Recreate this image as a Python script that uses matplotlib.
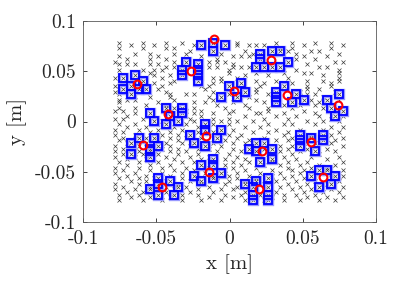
import matplotlib
matplotlib.use('Agg')
import matplotlib.pyplot as plt
import numpy as np

plt.rcParams['font.family'] = ['cmr10', 'DejaVu Sans']
plt.rcParams['axes.unicode_minus'] = False
plt.rcParams['mathtext.fontset'] = 'cm'

# ---- sampling lattice ----
GRID_X0 = -0.0781
GRID_DX = 0.00268
GRID_Y0 = 0.0784
GRID_DY = 0.0027

# background candidate points: for each lattice row (top to bottom) the occupied columns
bg_rows = [
    [1, 7, 13, 17, 31, 41, 45, 51, 55],
    [4, 10, 20, 31, 34, 36, 38, 48, 58],
    [1, 7, 13, 15, 42, 45, 55],
    [19, 33, 44, 50, 52],
    [5, 9, 15, 18, 27, 35, 46, 57],
    [1, 11, 22, 30, 32, 34, 48, 54],
    [3, 9, 13, 26, 46, 51],
    [0, 15, 24, 26, 28, 56, 58],
    [1, 3, 5, 9, 11, 30, 35, 49],
    [13, 15, 24, 26, 30, 32, 34, 52, 54],
    [1, 7, 10, 12, 29, 46, 57],
    [9, 29, 36, 43, 48, 50, 57],
    [10, 14, 33, 39, 53],
    [0, 12, 25, 27, 31, 44, 57],
    [15, 27, 36, 41, 49, 53, 57],
    [10, 14, 25, 38, 45, 55],
    [0, 12, 22, 24, 37, 49, 55],
    [1, 11, 23, 36, 49, 52],
    [0, 13, 25, 36, 47, 56],
    [1, 14, 18, 20, 29, 39, 49, 51],
    [9, 14, 24, 34, 53],
    [1, 3, 5, 15, 25, 36, 50, 57],
    [1, 11, 20, 23, 30, 38, 52],
    [8, 13, 26, 33, 43, 47, 51],
    [1, 5, 15, 20, 28, 34, 39, 45, 53],
    [0, 2, 18, 22, 30, 39, 48],
    [5, 20, 25, 29, 36, 37, 43, 51],
    [3, 22, 33, 41, 46, 52, 58],
    [0, 2, 7, 19, 25, 29, 38, 44, 55],
    [12, 20, 27, 31, 35, 49, 53, 57],
    [1, 5, 18, 25, 29, 39, 43, 45, 51],
    [3, 8, 15, 21, 33, 37, 55, 58],
    [0, 6, 11, 17, 30, 41, 47, 53],
    [2, 9, 14, 21, 25, 35, 39, 44, 57],
    [0, 5, 12, 16, 29, 32, 43, 50, 55],
    [2, 8, 14, 18, 22, 31, 38, 45, 58],
    [1, 11, 16, 28, 34, 41, 44, 56],
    [3, 8, 13, 17, 25, 30, 33, 48, 51, 55],
    [0, 6, 14, 19, 27, 35, 42, 45, 58],
    [2, 12, 16, 21, 24, 30, 38, 44, 49, 54],
    [0, 6, 14, 18, 26, 32, 42, 47, 56],
    [2, 7, 11, 16, 21, 29, 35, 39, 45, 52],
    [0, 5, 13, 19, 24, 31, 37, 43, 50, 57],
    [3, 8, 15, 22, 28, 33, 46, 54],
    [1, 6, 11, 17, 20, 30, 34, 40, 44, 49, 58],
    [3, 9, 14, 28, 32, 38, 42, 47, 52, 56],
    [0, 6, 12, 18, 23, 30, 36, 44, 50, 54],
    [2, 9, 15, 20, 28, 33, 40, 45, 48, 58],
    [0, 5, 12, 17, 23, 31, 37, 42, 47, 53],
    [3, 8, 14, 25, 29, 34, 40, 45, 58],
    [1, 6, 10, 17, 21, 31, 36, 43, 48, 55],
    [4, 8, 13, 19, 26, 29, 33, 41, 46, 51, 57],
    [0, 6, 16, 22, 28, 37, 44, 49, 53],
    [2, 9, 13, 18, 24, 31, 34, 42, 47, 58],
    [0, 5, 11, 15, 21, 27, 30, 38, 45, 50, 55],
    [3, 7, 13, 19, 25, 33, 41, 48, 53, 57],
    [1, 6, 17, 21, 28, 32, 37, 43, 46, 51],
    [4, 9, 14, 24, 30, 35, 40, 49, 54, 58],
    [1, 7, 12, 17, 22, 27, 33, 38, 43, 47, 52, 56],
]

# selected sensors (blue squares): lattice column / row per point
sel_col = [22, 25, 25, 28,
           18, 17, 17, 21, 21, 21, 21,
           2, 5, 7, 2, 4, 4, 6, 8,
           37, 37, 40, 42, 36, 38, 40, 42, 44,
           29, 32, 33, 27, 31,
           43, 41, 41, 41, 46, 45, 48,
           54, 57, 55, 58, 56,
           9, 13, 17, 17, 14, 10, 13, 16,
           19, 20, 23, 23, 23, 26, 27,
           4, 6, 10, 11, 9, 9, 9, 4,
           34, 36, 38, 36, 40, 40, 37,
           47, 47, 47, 50, 53, 53, 51,
           20, 22, 22, 25, 25, 25, 27,
           9, 11, 11, 14, 16, 15, 11,
           33, 36, 39, 39, 35, 35, 35, 39, 39,
           50, 52, 54, 56, 52, 55]
sel_row = [1, 0, 3, 1,
           7, 10, 12, 8, 10, 12, 14,
           13, 12, 14, 17, 16, 19, 17, 17,
           4, 6, 3, 3, 9, 9, 9, 9, 7,
           16, 15, 18, 20, 20,
           16, 18, 20, 22, 19, 22, 21,
           21, 19, 24, 25, 27,
           26, 24, 24, 26, 27, 29, 30, 29,
           34, 37, 30, 32, 38, 35, 32,
           37, 35, 35, 38, 39, 40, 42, 41,
           39, 37, 37, 40, 39, 43, 44,
           34, 36, 38, 35, 34, 36, 40,
           49, 45, 51, 43, 45, 50, 48,
           54, 50, 56, 51, 53, 56, 52,
           52, 51, 50, 53, 53, 56, 58, 56, 58,
           49, 47, 47, 49, 53, 52]

# source positions (red circles) [m]
src_x = [-0.0106, -0.0262, -0.0633, 0.0282, 0.0032, 0.0395, 0.0740, -0.0417,
         -0.0160, -0.0588, 0.0220, 0.0557, -0.0139, -0.0460, 0.0204, 0.0641]
src_y = [0.0818, 0.0500, 0.0376, 0.0609, 0.0304, 0.0261, 0.0161, 0.0075,
         -0.0141, -0.0237, -0.0290, -0.0207, -0.0500, -0.0649, -0.0672, -0.0549]

ticks = [-0.1, -0.05, 0, 0.05, 0.1]
tick_labels = ['-0.1', '-0.05', '0', '0.05', '0.1']

# ---- build coordinates ----
bg_x, bg_y = [], []
for r, cols in enumerate(bg_rows):
    for c in cols:
        bg_x.append(GRID_X0 + c * GRID_DX)
        bg_y.append(GRID_Y0 - r * GRID_DY)
sel_x = [GRID_X0 + c * GRID_DX for c in sel_col]
sel_y = [GRID_Y0 - r * GRID_DY for r in sel_row]

fig = plt.figure(figsize=(4.15, 2.84), dpi=100)
ax = fig.add_axes([83 / 415, 1 - 222 / 284, 293 / 415, 201 / 284])

ax.plot(bg_x, bg_y, linestyle='none', marker='x', ms=2.3, mew=0.5, color='#3a3a3a')
ax.plot(sel_x, sel_y, linestyle='none', marker='x', ms=2.3, mew=0.5, color='#3a3a3a')
# soft halo + solid blue squares (transparent inside)
ax.plot(sel_x, sel_y, linestyle='none', marker='s', ms=5.4, mew=2.4,
        mfc='none', mec=(0.6, 0.6, 1.0))
ax.plot(sel_x, sel_y, linestyle='none', marker='s', ms=5.4, mew=1.3,
        mfc='none', mec=(0, 0, 1))
ax.plot(src_x, src_y, linestyle='none', marker='o', ms=5.6, mew=1.5,
        mfc='none', mec=(1, 0, 0))

ax.set_xlim(-0.1, 0.1)
ax.set_ylim(-0.1, 0.1)
ax.set_xticks(ticks)
ax.set_xticklabels(tick_labels)
ax.set_yticks(ticks)
ax.set_yticklabels(tick_labels)
ax.tick_params(direction='in', length=3, width=0.6, top=True, right=True,
               labelsize=14, colors='#262626')
ax.tick_params(axis='x', pad=6)
ax.tick_params(axis='y', pad=5)
for s in ax.spines.values():
    s.set_color('#5a5a5a')
    s.set_linewidth(0.6)

ax.set_xlabel('x [m]', fontsize=15, color='#262626', labelpad=4)
ax.set_ylabel('y [m]', fontsize=15, color='#262626', labelpad=6)

fig.savefig('out.png', dpi=100)
